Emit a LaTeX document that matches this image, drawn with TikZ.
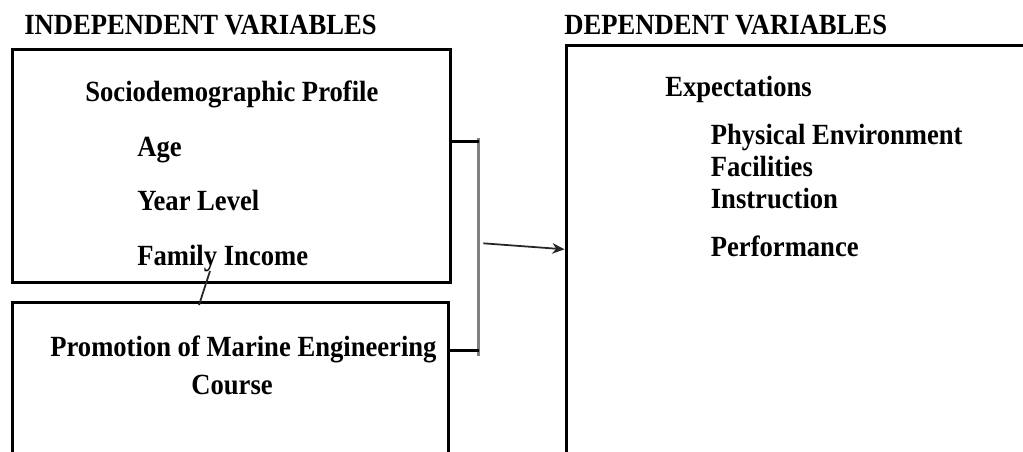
\documentclass[tikz,border=0pt]{standalone}
\usepackage{fontspec}
\usepackage{graphicx}
\setmainfont{Liberation Serif}
\usetikzlibrary{arrows.meta}
\newcommand{\tallt}[1]{\scalebox{1}[1.1]{#1}}
\tikzset{
  lbl/.style={anchor=base west, inner sep=0pt, font=\fontsize{15.15}{18}\selectfont\bfseries},
  frame/.style={draw=black, line width=1.7pt, inner sep=0pt, fill=none},
  thick conn/.style={draw=black, line width=1.7pt},
  gray conn/.style={draw=black!50, line width=1.3pt},
  thin conn/.style={draw=black!85, line width=1pt},
}
\begin{document}
\begin{tikzpicture}[x=0.02cm, y=-0.02cm]
\useasboundingbox (0,0) rectangle (1023,451);
\clip (0,0) rectangle (1023,451);
\fill[white] (0,0) rectangle (1023,451);
% boxes
\node[frame, minimum width=8.78cm, minimum height=4.68cm] (b1) at (231.5,166) {};
\node[frame, minimum width=8.734cm, minimum height=4.346cm] (b2) at (230.35,411.35) {};
\node[frame, minimum width=10.68cm, minimum height=9.5cm] (b3) at (833,282.5) {};
% headings
\node[lbl] (hind) at (24,34.5) {\tallt{INDEPENDENT VARIABLES}};
\node[lbl] (hdep) at (564,34.5) {\tallt{DEPENDENT VARIABLES}};
% box 1 text
\node[lbl] (sp) at (85,101.7) {\tallt{Sociodemographic Profile}};
\node[lbl] (age) at (137,156) {\tallt{Age}};
\node[lbl] (yl) at (137,210.7) {\tallt{Year Level}};
\node[lbl] (fi) at (137,265.7) {\tallt{Family Income}};
% box 2 text
\node[lbl] (pm) at (50,356.7) {\tallt{Promotion of Marine Engineering}};
\node[lbl] (co) at (191,394) {\tallt{Course}};
% box 3 text
\node[lbl] (ex) at (665,96.7) {\tallt{Expectations}};
\node[lbl] (pe) at (710.5,144.5) {\tallt{Physical Environment}};
\node[lbl] (fa) at (710.5,176) {\tallt{Facilities}};
\node[lbl] (in) at (710.5,208.3) {\tallt{Instruction}};
\node[lbl] (pf) at (710.5,256.7) {\tallt{Performance}};
% connectors
\coordinate (jt) at (478.5,141.7);
\coordinate (jb) at (478.5,350);
\coordinate (vt) at (478.5,138);
\coordinate (vb) at (478.5,356);
\draw[gray conn] (vt) -- (vb);
\draw[thick conn] (b1.east |- jt) -- (jt);
\draw[thick conn] (b2.east |- jb) -- (jb);
\coordinate (as) at (483.3,243.3);
\draw[thin conn, -{Stealth[length=7pt,width=6pt]}] (as) -- (b3.west |- 0,249.3);
\coordinate (fs) at (210,271);
\coordinate (fe) at (199,305);
\draw[thin conn] (fs) -- (fe);
\end{tikzpicture}
\end{document}
